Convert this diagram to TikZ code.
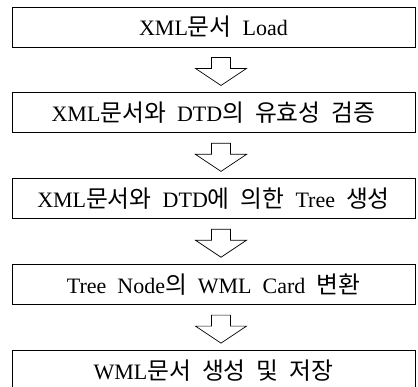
\documentclass[tikz,border=0pt]{standalone}
\usepackage{fontspec}
\setmainfont{Liberation Serif}
\newfontfamily\kr[Scale=1.08]{Noto Sans CJK KR}
\usetikzlibrary{positioning}

% hollow block arrow hanging below a box
\newcommand{\blockdown}[1]{%
  \draw[line width=0.7pt, line join=miter]
    ([xshift=-2pt,yshift=-10pt]#1.south) -- ++(0,-11pt) -- ++(-16pt,0)
    -- ++(25.5pt,-17pt) -- ++(25.5pt,17pt) -- ++(-16pt,0) -- ++(0,11pt) -- cycle;}

\begin{document}
\begin{tikzpicture}[
    stepbox/.style={draw, line width=0.9pt, minimum width=403pt, minimum height=40pt,
      inner sep=0pt, font=\fontsize{22}{26}\selectfont},
    node distance=45pt]
  \useasboundingbox (0,0) rectangle (418pt,-387pt);
  % work flow
  \node[stepbox] (b1) at (213.5pt,-27pt) {XML{\kr 문서}\ \ Load};
  \node[stepbox, below=of b1] (b2) {XML{\kr 문서와}\ \ DTD{\kr 의}\ \ {\kr 유효성}\ \ {\kr 검증}};
  \node[stepbox, below=of b2] (b3) {XML{\kr 문서와}\ \ DTD{\kr 에}\ \ {\kr 의한}\ \ Tree\ \ {\kr 생성}};
  \node[stepbox, below=of b3] (b4) {Tree\ \ Node{\kr 의}\ \ WML\ \ Card\ \ {\kr 변환}};
  \node[stepbox, below=of b4] (b5) {WML{\kr 문서}\ \ {\kr 생성}\ \ {\kr 및}\ \ {\kr 저장}};
  \foreach \b in {b1,b2,b3,b4} {\blockdown{\b}}
\end{tikzpicture}
\end{document}
